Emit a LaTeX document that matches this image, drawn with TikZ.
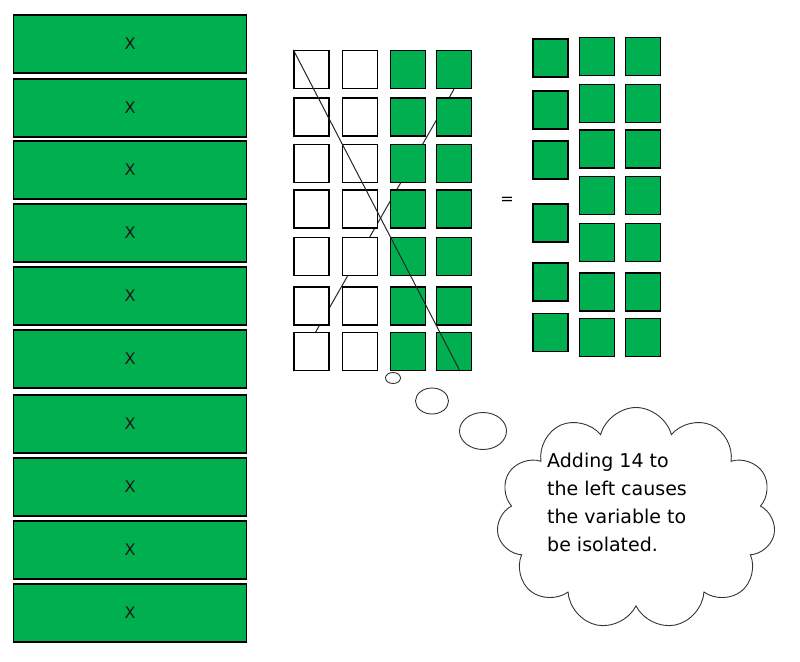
\documentclass[tikz,border=0pt]{standalone}
\usepackage{fontspec}
\setmainfont{DejaVu Sans}
\usetikzlibrary{calc,backgrounds,shapes.geometric,shapes.symbols}
\definecolor{tilegreen}{RGB}{0,176,80}
\newcommand{\tileline}{1.3pt}

\begin{document}
\begin{tikzpicture}[x=1pt,y=-1pt,
  bar/.style={draw, fill=tilegreen, line width=\tileline, minimum width=233pt, minimum height=58pt, inner sep=0pt, font=\fontsize{16}{18}\selectfont, text=black!90},
  tile/.style={draw, fill=tilegreen, line width=\tileline, minimum width=35pt, minimum height=38pt, inner sep=0pt},
  blank/.style={tile, fill=white},
  strike/.style={line width=1pt, black!85},
  puff/.style={draw=black!80, ellipse, line width=.9pt, inner sep=0pt}]
\useasboundingbox (0,0) rectangle (800,661);

% the ten x bars
\foreach \t [count=\i] in {15,79,141,204,267,330,395,458,521,584}
  \node (x\i) at (130,\t+29) [bar] {\raisebox{-2pt}{X}};

% left side: two white columns, two green columns
\foreach \y [count=\j] in {69.5,117,163.5,209,256.5,306,351.5} {
  \node (l\j c1) at (311.5,\y) [blank] {};
  \node (l\j c2) at (360,\y) [blank] {};
  \node (l\j c3) at (408,\y) [tile] {};
  \node (l\j c4) at (454,\y) [tile] {};
}

% right side
\foreach \y [count=\j] in {58,110,160,223,282,332.5}
  \node (ra\j) at (550.5,\y) [tile] {};
\foreach \y [count=\j] in {56.5,103.5,149,195.5,242.5,292,337.5} {
  \node (rb\j) at (597,\y) [tile] {};
  \node (rc\j) at (643,\y) [tile] {};
}

\node (eq) at (507,201) [font=\fontsize{16}{18}\selectfont] {=};

% strike lines
\begin{scope}[on background layer]
\draw[strike] (l1c4.south) to (l7c1.south west);
\end{scope}
\coordinate (cross) at ($(l7c4.south)+(6,0)$);
\draw[strike] (l1c1.north west) to (cross);

% thought bubble
\node (b1) at (393,378) [puff, minimum width=15pt, minimum height=11pt] {};
\node (b2) at (432,401) [puff, minimum width=33pt, minimum height=26pt] {};
\node (b3) at (483,431) [puff, minimum width=47pt, minimum height=37pt] {};
\node (cloud) at (636,518.5) [draw=black!80, cloud, cloud puffs=11, aspect=1.26, line width=.9pt, minimum width=279pt, minimum height=222pt] {};
\node (note) at (547,453) [anchor=north west, align=left, inner sep=0pt, font=\fontsize{19}{28}\selectfont] {Adding 14 to\\the left causes\\the variable to\\be isolated.};
\end{tikzpicture}
\end{document}
